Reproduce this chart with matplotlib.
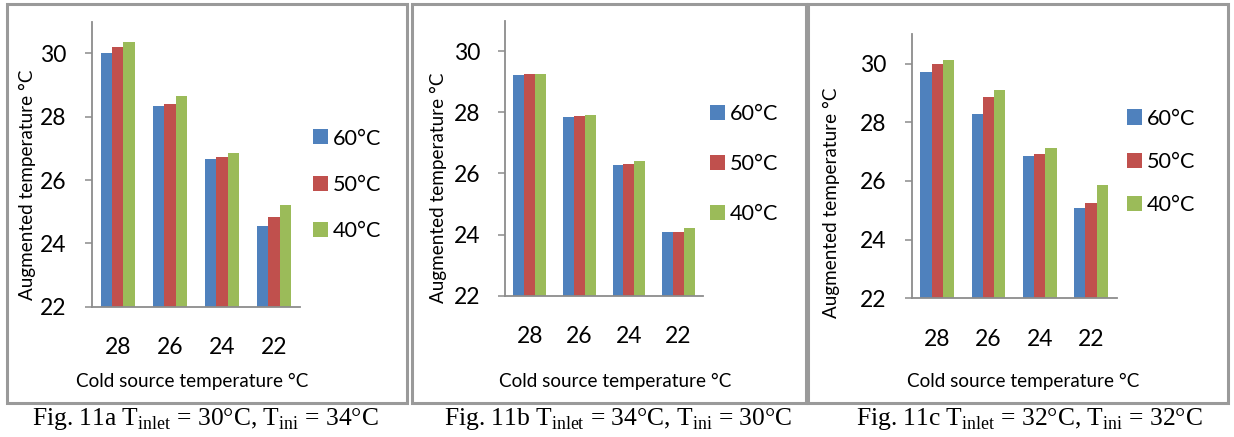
import matplotlib
matplotlib.use("Agg")
import matplotlib.pyplot as plt
from matplotlib.patches import Rectangle
import numpy as np

plt.rcParams['font.family'] = ['Lato', 'DejaVu Sans']
plt.rcParams['mathtext.fontset'] = 'custom'
plt.rcParams['mathtext.rm'] = 'Liberation Serif'

categories = ['28', '26', '24', '22']
series_labels = ['60°C', '50°C', '40°C']
colors = ['#4F81BD', '#C0504D', '#9BBB59']

panel_a_60 = [30.01, 28.35, 26.67, 24.56]
panel_a_50 = [30.21, 28.39, 26.74, 24.83]
panel_a_40 = [30.35, 28.65, 26.86, 25.22]

panel_b_60 = [29.23, 27.85, 26.28, 24.08]
panel_b_50 = [29.25, 27.87, 26.30, 24.10]
panel_b_40 = [29.26, 27.91, 26.41, 24.22]

panel_c_60 = [29.71, 28.29, 26.86, 25.07]
panel_c_50 = [29.99, 28.85, 26.91, 25.24]
panel_c_40 = [30.12, 29.11, 27.12, 25.86]

captions = [
    r"Fig. 11a T$_{\rm inlet}$ = 30°C, T$_{\rm ini}$ = 34°C",
    r"Fig. 11b T$_{\rm inlet}$ = 34°C, T$_{\rm ini}$ = 30°C",
    r"Fig. 11c T$_{\rm inlet}$ = 32°C, T$_{\rm ini}$ = 32°C",
]
xlabel = "Cold source temperature °C"
ylabel = "Augmented temperature °C"
yticks = [22, 24, 26, 28, 30]

W, H = 1234, 437
fig = plt.figure(figsize=(W / 100, H / 100), dpi=100)

def fx(px):
    return px / W

def fy(py):
    return (H - py) / H

# layout in pixels: (left, right, top, bottom)
axes_px = [(91.7, 300.0, 21.7, 306.7), (505.0, 703.3, 20.7, 295.7), (911.7, 1116.7, 34.3, 298.3)]
legend_px = [(313, 185, 1.22), (710, 164, 1.40), (1126.7, 162, 1.08)]
ylabel_px = [(27, 185), (438, 187.5), (831.7, 202.5)]
xlabel_px = [(192, 381.7), (615, 381.7), (1023.3, 381.7)]
caption_px = [(205.5, 419), (618, 419), (1029, 419)]
frames_px = [(7, 406.7), (411.7, 806), (808.3, 1228.3)]

data = [
    [panel_a_60, panel_a_50, panel_a_40],
    [panel_b_60, panel_b_50, panel_b_40],
    [panel_c_60, panel_c_50, panel_c_40],
]

bw = 0.22
x = np.arange(len(categories))
spine_col = '#8c8c8c'
tick_fs = 16.5
leg_fs = 15.6
lab_fs = 13.6

for i in range(3):
    l, r, t, b = axes_px[i]
    ax = fig.add_axes([fx(l), fy(b), fx(r) - fx(l), fy(t) - fy(b)])
    handles = []
    for k in range(3):
        h = ax.bar(x + (k - 1) * bw, np.array(data[i][k]) - 22, bw, bottom=22,
                   color=colors[k], edgecolor='none', label=series_labels[k])
        handles.append(h)
    ax.set_xlim(-0.5, 3.5)
    ax.set_ylim(22, 31)
    ax.set_yticks(yticks)
    ax.set_xticks(x)
    ax.set_xticklabels(categories)
    ax.spines['top'].set_visible(False)
    ax.spines['right'].set_visible(False)
    for s in ['left', 'bottom']:
        ax.spines[s].set_color(spine_col)
        ax.spines[s].set_linewidth(1.3)
    ax.tick_params(axis='y', direction='out', length=5, width=1.1, color=spine_col,
                   labelsize=tick_fs, pad=13)
    ax.tick_params(axis='x', length=0, labelsize=tick_fs, pad=22)
    ax.set_facecolor('none')

    lx, ly, ls = legend_px[i]
    fig.legend(handles=handles, labels=series_labels, loc='center left',
               bbox_to_anchor=(fx(lx), fy(ly)), bbox_transform=fig.transFigure,
               frameon=False, fontsize=leg_fs, handlelength=0.69, handleheight=0.69,
               handletextpad=0.24, labelspacing=ls, borderpad=0, borderaxespad=0)

    fig.text(fx(ylabel_px[i][0]), fy(ylabel_px[i][1]), ylabel, rotation=90,
             ha='center', va='center', fontsize=lab_fs)
    fig.text(fx(xlabel_px[i][0]), fy(xlabel_px[i][1]), xlabel,
             ha='center', va='center', fontsize=lab_fs)
    fig.text(fx(caption_px[i][0]), fy(caption_px[i][1]), captions[i],
             ha='center', va='center', fontsize=18.4, family='Liberation Serif')

    fl, fr = frames_px[i]
    fig.patches.append(Rectangle((fx(fl), fy(403)), fx(fr) - fx(fl), fy(4) - fy(403),
                                 transform=fig.transFigure, fill=False,
                                 edgecolor='#9a9a9a', linewidth=2.2))

fig.savefig('out.png', dpi=100)
